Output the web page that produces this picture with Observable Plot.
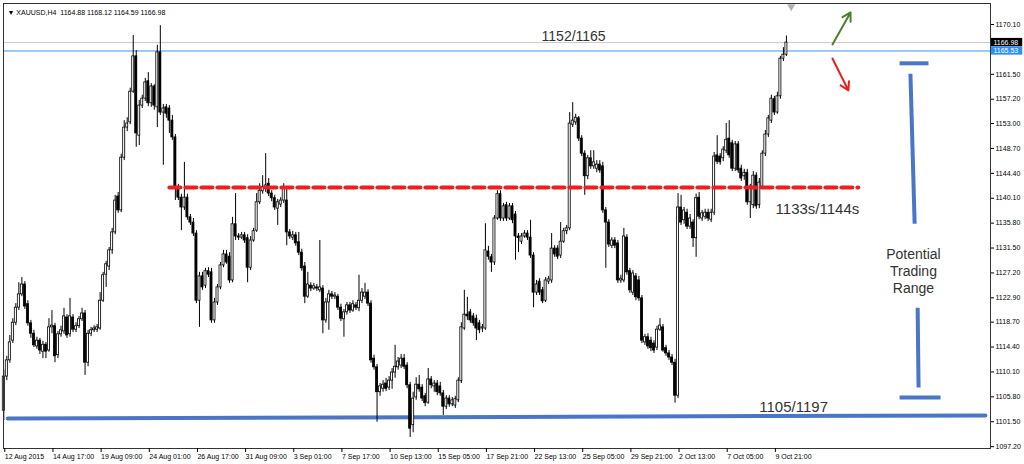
<!DOCTYPE html>
<html><head><meta charset="utf-8">
<script src="https://cdn.jsdelivr.net/npm/d3@7"></script>
<script src="https://cdn.jsdelivr.net/npm/@observablehq/plot@0.6"></script>
<style>html,body{margin:0;padding:0;background:#fff;overflow:hidden}</style>
</head><body><div id="chart"></div>
<script>
const symbol = "XAUUSD,H4";
// H4 bars, 12 Aug 2015 01:00 -> 12 Oct 2015 13:00
const opens = [1103.4,1109.3,1112.1,1115.5,1118.6,1121.2,1123.5,1125.2,1121.8,1118.5,
1116.7,1114.5,1115.5,1113.6,1114.8,1113.8,1117.8,1118.0,1113.0,1116.6,
1117.1,1119.5,1116.6,1119.5,1117.4,1118.0,1119.2,1120.2,1111.7,1116.7,
1117.3,1117.4,1117.6,1122.4,1126.9,1128.3,1131.1,1134.2,1140.4,1138.0,
1147.1,1152.3,1153.2,1158.5,1164.6,1150.9,1156.1,1157.3,1160.3,1156.5,
1159.4,1155.8,1165.3,1154.9,1155.8,1155.6,1153.5,1150.6,1142.0,1140.2,
1138.5,1140.2,1136.8,1135.9,1134.0,1122.4,1126.6,1125.0,1127.5,1127.3,
1119.0,1122.1,1124.7,1128.5,1130.4,1130.0,1125.9,1135.6,1133.5,1133.3,
1133.7,1133.2,1128.1,1132.8,1134.5,1139.4,1141.3,1141.8,1142.6,1140.9,
1140.1,1138.3,1139.0,1139.7,1139.7,1134.2,1133.3,1133.7,1132.5,1130.7,
1128.3,1123.1,1125.0,1124.5,1124.7,1124.2,1124.5,1119.0,1122.1,1123.5,
1123.1,1123.1,1121.2,1119.2,1120.4,1121.6,1120.7,1121.6,1121.1,1122.4,
1123.1,1123.8,1121.9,1112.4,1110.9,1106.6,1107.2,1108.1,1107.4,1108.6,
1110.0,1110.9,1111.2,1112.4,1111.2,1107.8,1100.9,1105.7,1107.9,1107.4,
1105.9,1104.8,1108.8,1107.6,1108.1,1107.6,1106.4,1104.1,1105.5,1104.5,
1104.3,1105.2,1108.5,1117.6,1120.0,1120.4,1119.7,1119.3,1118.5,1117.6,
1117.6,1130.9,1129.9,1129.0,1136.6,1140.8,1136.6,1138.9,1136.6,1138.7,
1137.3,1133.5,1132.6,1133.5,1134.0,1133.3,1130.2,1123.8,1125.7,1124.2,
1122.4,1125.7,1125.9,1131.4,1131.4,1130.2,1132.6,1134.4,1134.9,1152.8,
1153.2,1153.9,1150.4,1147.8,1143.9,1147.0,1145.6,1145.2,1145.9,1145.6,
1138.0,1135.9,1131.9,1132.8,1132.3,1125.9,1125.9,1133.3,1127.5,1123.8,
1126.6,1125.9,1122.8,1115.2,1116.1,1115.5,1115.0,1114.3,1117.4,1117.8,
1114.2,1113.3,1112.6,1111.7,1106.0,1138.5,1136.3,1137.6,1135.2,1135.9,
1133.2,1140.2,1136.6,1136.9,1137.6,1136.4,1137.6,1147.5,1147.3,1147.0,
1148.3,1150.4,1149.6,1145.2,1149.4,1145.2,1143.9,1144.5,1139.4,1138.9,
1144.0,1138.9,1142.1,1147.8,1151.1,1153.5,1157.2,1154.9,1157.7,1164.2,
1164.88];
const highs = [1110.4,1112.8,1116.4,1119.3,1121.9,1125.5,1126.4,1125.7,1122.4,1119.0,
1117.3,1116.1,1115.9,1115.4,1115.2,1119.3,1120.7,1118.5,1117.1,1118.0,
1121.1,1120.0,1122.8,1120.0,1118.6,1119.7,1121.1,1120.7,1117.3,1117.8,
1118.1,1118.3,1123.8,1127.3,1129.2,1131.6,1134.9,1140.6,1141.1,1147.7,
1153.5,1154.0,1159.1,1168.2,1165.6,1157.0,1157.9,1160.8,1161.8,1159.9,
1159.7,1166.5,1169.9,1156.3,1156.3,1156.1,1154.4,1151.1,1142.5,1140.8,
1146.3,1140.8,1137.3,1136.6,1134.5,1127.3,1127.3,1128.0,1128.1,1128.0,
1122.8,1125.2,1129.0,1131.1,1131.1,1130.7,1136.8,1140.9,1134.0,1134.2,
1134.2,1133.8,1133.5,1134.9,1140.9,1142.6,1144.0,1147.8,1143.5,1141.4,
1140.6,1139.9,1140.2,1142.6,1142.1,1134.7,1134.4,1134.2,1134.2,1131.3,
1129.0,1127.3,1125.5,1125.4,1125.2,1132.8,1125.0,1122.8,1124.2,1124.0,
1123.8,1123.5,1121.8,1120.9,1122.1,1122.1,1122.4,1122.1,1126.8,1124.5,
1125.4,1124.3,1122.4,1113.0,1111.4,1108.1,1108.6,1109.0,1109.3,1110.7,
1114.7,1112.6,1113.1,1113.1,1111.7,1108.3,1106.6,1109.1,1109.5,1107.9,
1106.4,1110.7,1109.3,1108.6,1108.6,1108.3,1106.9,1106.0,1106.0,1105.7,
1105.9,1109.1,1118.6,1124.2,1123.0,1120.9,1120.2,1119.9,1119.0,1118.3,
1135.7,1131.8,1130.4,1137.1,1141.4,1141.4,1139.2,1139.4,1139.2,1139.2,
1137.8,1134.0,1134.0,1134.5,1134.5,1136.3,1130.7,1125.9,1126.2,1124.7,
1126.4,1126.6,1134.0,1131.9,1131.9,1135.9,1134.9,1135.4,1154.9,1156.6,
1154.6,1154.2,1150.9,1148.3,1147.5,1148.3,1148.3,1146.6,1146.6,1146.3,
1138.5,1136.4,1133.3,1133.3,1132.8,1126.8,1134.9,1133.8,1128.0,1127.6,
1127.1,1126.6,1123.3,1116.6,1116.7,1116.1,1115.5,1118.0,1119.3,1118.3,
1114.7,1113.8,1113.1,1112.3,1140.9,1140.6,1138.5,1138.2,1137.3,1136.4,
1140.8,1141.1,1138.0,1138.2,1138.2,1138.2,1148.0,1150.9,1147.8,1149.0,
1153.0,1153.5,1150.1,1149.9,1149.9,1145.8,1145.1,1145.1,1142.5,1144.7,
1144.5,1143.5,1148.3,1151.8,1154.4,1157.9,1157.7,1158.4,1164.6,1166.1,
1168.12];
const lows = [1101.7,1108.6,1111.6,1115.0,1118.1,1120.7,1123.1,1120.9,1118.0,1115.9,
1114.3,1114.0,1113.1,1112.4,1112.4,1113.5,1116.7,1111.7,1112.4,1116.1,
1116.6,1115.9,1116.1,1116.9,1116.9,1117.6,1118.8,1109.5,1111.0,1116.2,
1116.9,1116.9,1117.3,1122.1,1124.7,1127.6,1130.4,1133.8,1137.5,1137.6,
1146.6,1151.6,1152.8,1158.2,1148.9,1149.2,1155.6,1156.8,1155.9,1155.8,
1155.3,1152.3,1154.4,1145.8,1153.9,1151.3,1150.1,1139.7,1139.7,1134.5,
1138.0,1136.3,1135.4,1133.5,1121.9,1117.8,1124.2,1124.5,1126.4,1118.5,
1118.5,1121.6,1124.3,1128.1,1128.7,1125.4,1125.5,1132.8,1132.8,1133.0,
1132.3,1125.5,1127.6,1132.5,1134.2,1139.0,1140.8,1141.1,1140.4,1139.5,
1138.0,1135.4,1138.5,1139.2,1131.9,1133.0,1132.8,1131.8,1130.2,1127.5,
1121.9,1122.8,1124.0,1124.2,1124.0,1123.8,1116.7,1118.5,1117.3,1122.6,
1122.6,1120.7,1118.8,1116.1,1119.9,1120.2,1120.4,1120.7,1120.5,1121.9,
1122.6,1121.4,1111.6,1110.4,1101.4,1105.9,1106.6,1106.7,1106.9,1107.1,
1109.0,1110.4,1110.7,1110.5,1107.2,1098.8,1099.6,1105.2,1106.6,1105.0,
1104.1,1104.5,1107.2,1106.6,1106.0,1105.9,1102.6,1103.6,1104.0,1104.1,
1103.8,1104.8,1108.1,1117.3,1119.0,1118.5,1118.0,1115.5,1116.7,1116.9,
1117.3,1129.4,1127.3,1128.5,1136.3,1136.1,1136.1,1136.1,1136.3,1135.7,
1129.4,1130.7,1132.1,1133.2,1132.8,1129.7,1121.2,1123.3,1123.3,1121.9,
1122.1,1125.2,1125.4,1129.9,1129.5,1129.7,1132.3,1133.8,1134.5,1152.3,
1152.7,1149.9,1147.3,1140.6,1143.3,1145.1,1145.1,1144.5,1144.4,1137.5,
1128.0,1131.6,1131.4,1131.4,1125.4,1125.4,1125.5,1126.8,1123.7,1123.3,
1122.4,1122.3,1115.0,1114.7,1114.0,1113.6,1113.3,1113.8,1117.1,1113.5,
1112.8,1112.1,1111.2,1104.7,1105.5,1135.4,1135.6,1134.7,1134.7,1131.6,
1129.9,1136.4,1136.1,1136.4,1136.1,1135.9,1137.1,1145.9,1145.8,1146.4,
1147.8,1147.0,1144.7,1144.7,1144.4,1143.0,1143.2,1138.9,1136.6,1138.3,
1138.2,1138.3,1141.6,1147.3,1150.6,1153.0,1154.4,1154.6,1157.2,1163.7,
1164.59];
const closes = [1109.3,1112.1,1115.2,1118.6,1121.2,1123.5,1125.2,1121.4,1118.5,1116.7,
1114.7,1115.5,1113.8,1114.8,1113.6,1117.8,1118.1,1112.8,1116.6,1117.3,
1119.7,1116.4,1119.7,1117.4,1118.0,1119.2,1120.2,1111.7,1116.7,1117.3,
1117.6,1117.8,1122.4,1126.8,1128.7,1131.1,1134.2,1139.7,1138.0,1147.1,
1152.3,1153.0,1158.5,1164.6,1151.3,1156.1,1157.3,1160.1,1156.5,1159.4,
1156.1,1165.3,1154.9,1155.6,1154.7,1153.5,1150.6,1142.0,1140.2,1138.5,
1140.2,1136.8,1135.9,1134.0,1122.4,1126.6,1124.7,1127.5,1126.9,1119.0,
1122.1,1124.7,1128.5,1130.4,1129.0,1125.9,1135.6,1133.5,1133.3,1133.7,
1132.8,1128.1,1132.8,1134.4,1139.4,1141.4,1142.0,1142.3,1140.9,1140.1,
1138.5,1139.4,1139.7,1141.8,1134.2,1133.5,1133.7,1132.3,1130.7,1128.0,
1123.1,1125.2,1124.5,1124.9,1124.5,1124.7,1119.0,1122.1,1123.5,1123.1,
1123.3,1121.2,1119.3,1120.4,1121.6,1120.7,1121.8,1121.2,1122.4,1123.8,
1123.8,1121.9,1112.1,1110.9,1106.6,1107.6,1107.9,1107.2,1108.6,1110.0,
1111.0,1111.9,1112.4,1111.0,1107.8,1100.3,1105.5,1107.9,1107.1,1105.5,
1104.7,1108.8,1107.8,1108.1,1106.6,1106.4,1104.1,1105.5,1104.5,1105.2,
1105.4,1108.6,1117.8,1120.0,1119.7,1119.0,1118.5,1117.6,1117.3,1117.8,
1131.1,1130.0,1129.0,1136.6,1140.8,1136.6,1138.7,1136.6,1138.7,1136.3,
1133.5,1133.2,1133.5,1134.0,1133.3,1130.2,1123.8,1125.2,1123.8,1122.3,
1125.9,1126.1,1131.4,1130.4,1130.0,1132.6,1134.4,1134.9,1153.0,1153.5,
1154.0,1150.4,1147.8,1143.9,1147.0,1145.6,1146.3,1145.9,1144.9,1138.0,
1135.9,1132.1,1132.8,1131.9,1125.9,1126.2,1133.5,1127.3,1124.2,1127.1,
1123.0,1122.8,1115.5,1116.1,1114.5,1114.2,1113.8,1117.4,1118.1,1113.8,
1113.3,1112.6,1111.7,1106.0,1138.5,1135.9,1138.0,1135.2,1136.6,1133.2,
1140.1,1136.9,1137.5,1137.6,1136.6,1137.6,1147.3,1146.4,1146.3,1148.5,
1150.2,1147.5,1145.2,1149.4,1144.9,1143.5,1144.5,1139.4,1141.8,1144.0,
1138.7,1142.8,1147.8,1151.1,1153.9,1157.3,1154.9,1157.7,1164.2,1164.88,
1166.98];
const xTickLabels = ["12 Aug 2015","14 Aug 17:00","19 Aug 09:00","24 Aug 01:00","26 Aug 17:00","31 Aug 09:00","3 Sep 01:00","7 Sep 17:00","10 Sep 13:00","15 Sep 05:00","17 Sep 21:00","22 Sep 13:00","25 Sep 05:00","29 Sep 21:00","2 Oct 13:00","7 Oct 05:00","9 Oct 21:00"];
const barsPerLabel = 16;
const yTickValues = [1170.10,1161.50,1157.20,1153.00,1148.70,1144.40,1140.10,1135.80,1131.50,1127.20,1122.90,1118.70,1114.40,1110.10,1105.80,1101.50,1097.20];
const bidPrice = 1166.98;
const hLinePrice = 1165.53;
const resistanceLevel = 1141.95;
const supportLevels = [1102.05, 1102.6];
const upperText = "1152/1165";
const midText = "1133s/1144s";
const lowerText = "1105/1197";
const rangeText = "Potential\nTrading\nRange";
</script>
<script>
const bars = closes.map((c, i) => ({i, open: opens[i], high: highs[i], low: lows[i], close: c}));
const n = bars.length;
const last = bars[n - 1];
const header = `\u25BC ${symbol}  ${last.open.toFixed(2)} ${last.high.toFixed(2)} ${last.low.toFixed(2)} ${last.close.toFixed(2)}`;
const xTicks = xTickLabels.map((_, k) => k * barsPerLabel);

// annotation placement (bar-index / price space)
const resistLine = [{i: 55.0, p: resistanceLevel}, {i: 283.9, p: resistanceLevel}];
const supportLine = [{i: 1.3, p: supportLevels[0]}, {i: 326.1, p: supportLevels[1]}];
const bracketSegs = [
  {x1: 297.6, y1: 1163.4, x2: 307.2, y2: 1163.4},
  {x1: 301.2, y1: 1161.6, x2: 302.6, y2: 1135.7},
  {x1: 303.6, y1: 1121.2, x2: 303.9, y2: 1107.4},
  {x1: 297.6, y1: 1105.7, x2: 311.2, y2: 1105.7}
];
const labels = [
  {x: 189.3, y: 1168.2, t: upperText, s: 14},
  {x: 270.3, y: 1138.3, t: midText, s: 15},
  {x: 262.4, y: 1104.1, t: lowerText, s: 15},
  {x: 302.2, y: 1127.6, t: rangeText, s: 14}
];
const tags = [{p: bidPrice, bg: "#000"}, {p: hLinePrice, bg: "#2f8ff0"}];

const chart = Plot.plot({
  width: 1024, height: 464,
  marginLeft: 3, marginRight: 34, marginTop: 3, marginBottom: 16,
  style: {fontFamily: "'Liberation Sans', Arial, sans-serif", background: "#fff", overflow: "visible"},
  x: {domain: [-0.1, 327.8]},
  y: {domain: [1096.88, 1173.73]},
  marks: [
    Plot.ruleY([bidPrice], {stroke: "#c8c8c8", strokeWidth: 1}),
    Plot.ruleY([hLinePrice], {stroke: "#3c96f0", strokeWidth: 1}),
    Plot.line(supportLine, {x: "i", y: "p", stroke: "#4a76c8", strokeWidth: 4}),
    Plot.ruleX(bars, {x: "i", y1: "low", y2: "high", stroke: "#000", strokeWidth: 1}),
    Plot.rect(bars, {x1: d => d.i - 0.34, x2: d => d.i + 0.34, y1: "open", y2: "close",
      fill: d => d.close >= d.open ? "#fff" : "#000", stroke: "#000", strokeWidth: 0.8}),
    Plot.line(resistLine, {x: "i", y: "p", stroke: "#f01e1e", strokeWidth: 4, strokeDasharray: "11,5"}),
    Plot.link(bracketSegs, {x1: "x1", y1: "y1", x2: "x2", y2: "y2", stroke: "#4a76c8", strokeWidth: 4}),
    Plot.arrow([{a: 275.3, b: 1166.65, c: 281.3, d: 1172.18}], {x1: "a", y1: "b", x2: "c", y2: "d", stroke: "#4e7f2c", strokeWidth: 2, headLength: 7}),
    Plot.arrow([{a: 275.3, b: 1164.23, c: 280.6, d: 1158.71}], {x1: "a", y1: "b", x2: "c", y2: "d", stroke: "#ee1c1c", strokeWidth: 2, headLength: 7}),
    Plot.text(labels, {x: "x", y: "y", text: "t", fontSize: d => d.s, fill: "#333", lineHeight: 1.2}),
    Plot.frame({stroke: "#333"}),
    Plot.dot([0], {x: () => 261.6, frameAnchor: "top", dy: 3, symbol: "triangle", rotate: 180, r: 3, fill: "#b0b0b0", stroke: null}),
    Plot.text([header], {frameAnchor: "top-left", dx: 4, dy: 7, fontSize: 7, textAnchor: "start", fill: "#000"}),
    Plot.axisY({anchor: "right", ticks: yTickValues, tickFormat: d => d.toFixed(2), tickSize: 3, tickPadding: 2, fontSize: 7, label: null}),
    Plot.axisX({anchor: "bottom", ticks: xTicks, tickFormat: d => xTickLabels[Math.round(d / barsPerLabel)], tickSize: 4, tickPadding: 2, textAnchor: "start", dx: 1, fontSize: 7, label: null}),
    Plot.rect(tags, {x1: () => 328.1, x2: () => 338.5, y1: d => d.p - 0.72, y2: d => d.p + 0.72, fill: "bg"}),
    Plot.text(tags, {x: () => 328.1, y: "p", text: d => d.p.toFixed(2), fill: "#fff", textAnchor: "start", dx: 2, fontSize: 7})
  ]
});
document.getElementById("chart").appendChild(chart);
</script>
</body></html>
